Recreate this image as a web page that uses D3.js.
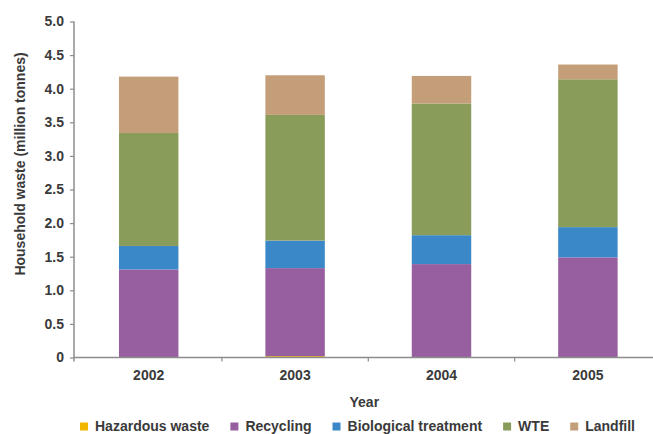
<!DOCTYPE html>
<html>
<head>
<meta charset="utf-8">
<script src="https://cdn.jsdelivr.net/npm/d3@7"></script>
<style>
  html, body { margin: 0; padding: 0; background: #fff; }
  svg { display: block; }
  text { font-family: "Liberation Sans", Arial, sans-serif; font-weight: bold; fill: #3a3a3a; }
</style>
</head>
<body>
<svg id="chart" width="653" height="434"></svg>
<script>
const years = ["2002", "2003", "2004", "2005"];
const seriesNames = ["Hazardous waste", "Recycling", "Biological treatment", "WTE", "Landfill"];
const hazardous = [0.00, 0.02, 0.00, 0.00];
const recycling = [1.31, 1.31, 1.39, 1.49];
const biological = [0.35, 0.41, 0.43, 0.45];
const wte = [1.68, 1.87, 1.96, 2.20];
const landfill = [0.84, 0.59, 0.41, 0.22];
const colors = ["#f2b600", "#985fa0", "#3a88c8", "#8a9c5a", "#c49e78"];
const yTicks = [0, 0.5, 1.0, 1.5, 2.0, 2.5, 3.0, 3.5, 4.0, 4.5, 5.0];
const yTitle = "Household waste (million tonnes)";
const xTitle = "Year";

const seriesValues = [hazardous, recycling, biological, wte, landfill];
const rows = years.map((y, i) => {
  const r = { year: y };
  seriesNames.forEach((s, k) => r[s] = seriesValues[k][i]);
  return r;
});

const svg = d3.select("#chart");
const left = 74, baseY = 357.5, topY = 21.5;

const x = d3.scaleBand().domain(years).range([75.5, 75.5 + 585.6])
  .paddingInner(0.594).paddingOuter(0.297);
const y = d3.scaleLinear().domain([0, 5]).range([baseY, topY]);

const stack = d3.stack().keys(seriesNames);
const stacked = stack(rows);

// bars
svg.append("g").selectAll("g").data(stacked).join("g")
  .attr("fill", (d, i) => colors[i])
  .selectAll("rect").data(d => d).join("rect")
  .attr("x", d => x(d.data.year))
  .attr("width", x.bandwidth())
  .attr("y", d => y(d[1]))
  .attr("height", d => Math.max(0, y(d[0]) - y(d[1])));

const axisColor = "#8c8c8c";

// y axis
const yAxis = svg.append("g").attr("transform", `translate(${left},0)`)
  .call(d3.axisLeft(y).tickValues(yTicks).tickSize(4).tickPadding(6)
    .tickFormat(d => d === 0 ? "0" : d3.format(".1f")(d)));
yAxis.select(".domain").attr("stroke", axisColor).attr("stroke-width", 1.5)
  .attr("d", `M0,${topY}V${baseY + 4}`);
yAxis.selectAll(".tick line").attr("stroke", axisColor).attr("stroke-width", 1.2);
yAxis.selectAll(".tick text").attr("font-size", 14).attr("font-family", null).attr("fill", null);

// x axis
const xAxis = svg.append("g").attr("transform", `translate(0,${baseY})`)
  .call(d3.axisBottom(x).tickSize(0).tickPadding(13));
xAxis.select(".domain").attr("stroke", axisColor).attr("stroke-width", 1.5)
  .attr("d", `M${left},0H660`);
xAxis.selectAll(".tick text").attr("font-size", 14).attr("font-family", null).attr("fill", null);

// boundary ticks between categories
const gap = (x.step() - x.bandwidth()) / 2;
const bounds = years.slice(1).map(c => x(c) - gap);
xAxis.append("g").selectAll("line").data(bounds).join("line")
  .attr("x1", d => d).attr("x2", d => d)
  .attr("y1", 0).attr("y2", 4)
  .attr("stroke", axisColor).attr("stroke-width", 1.2);

// axis titles
svg.append("text").attr("x", (x.range()[0] + x.range()[1]) / 2 - 4).attr("y", 407)
  .attr("text-anchor", "middle").attr("font-size", 14).text(xTitle);
svg.append("text").attr("transform", "translate(25,164) rotate(-90)")
  .attr("text-anchor", "middle").attr("font-size", 14).text(yTitle);

// legend
const legend = svg.append("g");
let lx = 80;
seriesNames.forEach((name, i) => {
  legend.append("rect").attr("x", lx).attr("y", 422.5).attr("width", 8).attr("height", 8)
    .attr("fill", colors[i]);
  const t = legend.append("text").attr("x", lx + 15).attr("y", 431)
    .attr("font-size", 14).text(name);
  lx = lx + 15 + t.node().getComputedTextLength() + 21;
});
</script>
</body>
</html>
